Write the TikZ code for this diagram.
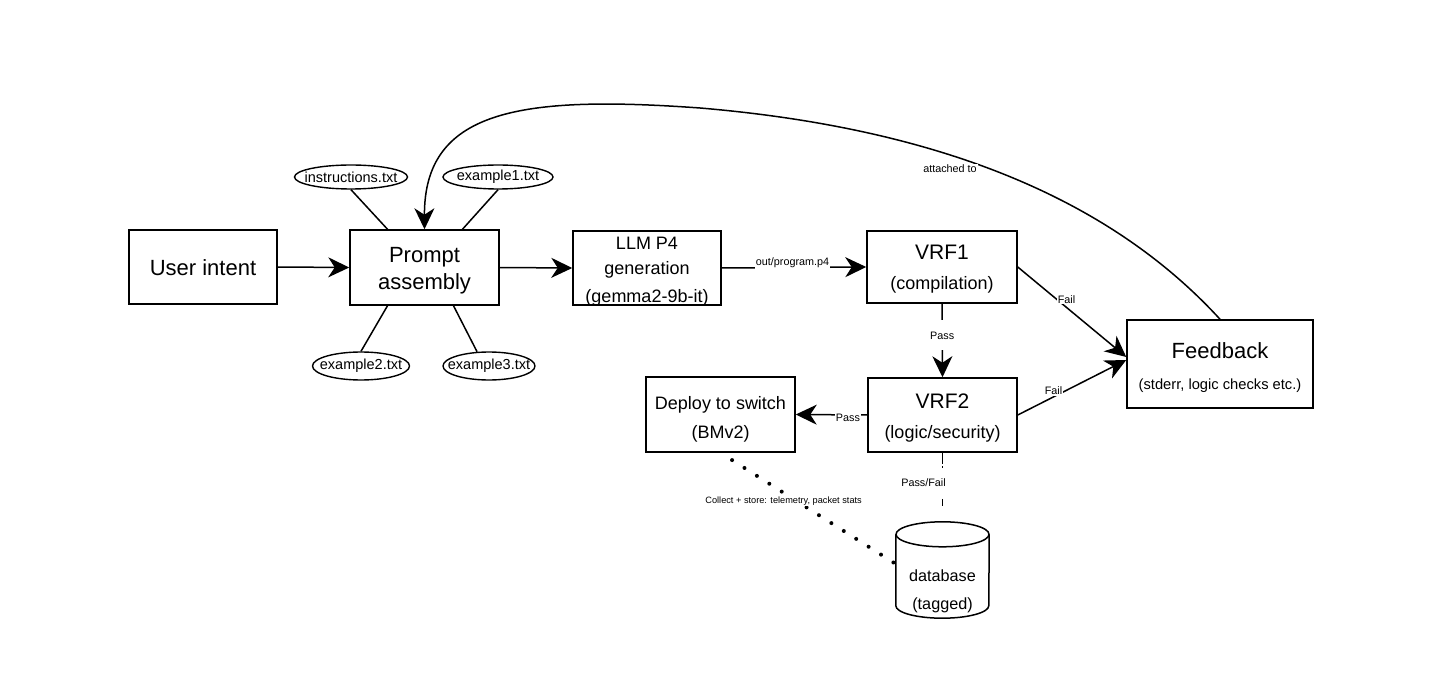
\documentclass[tikz,border=0pt]{standalone}
\usepackage{fontspec}
\setmainfont{Liberation Sans}
\usetikzlibrary{arrows.meta,shapes.geometric,calc}
\begin{document}
\begin{tikzpicture}[x=1pt,y=-1pt,
 box/.style={draw, line width=1.5pt, inner sep=0pt, minimum width=148pt, minimum height=74pt},
 fileell/.style={draw, ellipse, line width=1.4pt, inner sep=0pt, minimum height=24pt},
 ftxt/.style={label={[font=\fontsize{14.5}{16}\selectfont]center:{#1}}},
 conn/.style={line width=1.5pt},
 arr/.style={conn, -{Stealth[length=21pt,width=20pt,inset=6.5pt]}},
 lbl/.style={fill=white, inner sep=1pt, font=\fontsize{10.8}{12}\selectfont},
]
\useasboundingbox (0,0) rectangle (1439,700);

% boxes
\node[box, label={[font=\fontsize{22}{26}\selectfont,yshift=-1pt]center:User intent}] (ui) at (203,267) {};
\node[box, minimum width=149pt, minimum height=75pt,
  label={[align=center,font=\fontsize{22}{27}\selectfont,yshift=-3pt]center:{Prompt\\assembly}}] (pa) at (424.5,267.5) {};
\node[box, label={[align=center,font=\fontsize{18}{25}\selectfont,yshift=-3.5pt]center:{LLM P4\\generation\\[3pt](gemma2-9b-it)}}] (llm) at (647,268) {};
\node[box, minimum width=150pt, minimum height=72pt,
  label={[align=center,font=\fontsize{18}{30}\selectfont,yshift=-2.5pt]center:{{\fontsize{21}{30}\selectfont VRF1}\\(compilation)}}] (vrf1) at (942,267) {};
\node[box, minimum width=149pt,
  label={[align=center,font=\fontsize{18}{30}\selectfont,yshift=-3.5pt]center:{{\fontsize{21}{30}\selectfont VRF2}\\(logic/security)}}] (vrf2) at (942.5,415) {};
\node[box, minimum width=149pt, minimum height=75pt,
  label={[align=center,font=\fontsize{18}{29}\selectfont,yshift=-4.5pt]center:{Deploy to switch\\(BMv2)}}] (dep) at (720.5,414.5) {};
\node[box, minimum width=186pt, minimum height=88pt,
  label={[align=center,font=\fontsize{14.7}{31}\selectfont,yshift=-4pt]center:{{\fontsize{22}{31}\selectfont Feedback}\\(stderr, logic checks etc.)}}] (fb) at (1220,364) {};

% file ellipses
\node[fileell, minimum width=113pt, ftxt=instructions.txt] (instr) at (351,177) {};
\node[fileell, minimum width=110pt, ftxt=example1.txt] (ex1) at (498,177) {};
\node[fileell, minimum width=97pt, minimum height=28pt, ftxt=example2.txt] (ex2) at (361,366) {};
\node[fileell, minimum width=92pt, minimum height=28pt, ftxt=example3.txt] (ex3) at (489,366) {};

% database cylinder
\node[inner sep=0pt, minimum width=93pt, minimum height=96pt,
  label={[align=center,font=\fontsize{16.2}{28}\selectfont,yshift=-21pt]center:{database\\(tagged)}}] (db) at (942.5,570) {};
\draw[line width=1.5pt] ([yshift=-12.5pt]db.north) ellipse [x radius=46.5pt, y radius=12.5pt];
\draw[line width=1.5pt] ([yshift=-12.5pt]db.north west) -- ([yshift=12.5pt]db.south west)
  arc[start angle=180, end angle=360, x radius=46.5pt, y radius=12.5pt] -- ([yshift=-12.5pt]db.north east);

% connectors
\draw[arr] (ui.east) -- (pa.west);
\draw[arr] (pa.east) -- (llm.west);
\draw[arr] (llm.east) -- node[lbl, pos=0.49, yshift=5pt]{out/program.p4} (vrf1.west);
\draw[arr] (vrf1.east) -- node[lbl, pos=0.45, yshift=8pt]{Fail} ([yshift=7pt]fb.west);
\draw[arr] (vrf2.east) -- node[lbl, pos=0.33, yshift=6pt]{Fail} ([yshift=4pt]fb.west);
\draw[arr] (vrf1.south) -- node[lbl, pos=0.43, minimum height=30pt]{Pass} (vrf2.north);
\draw[arr] (vrf2.west) -- node[lbl, pos=0.27, yshift=-3pt]{Pass} (dep.east);
\draw[conn, dash pattern=on 11pt off 2pt on 2pt off 31pt on 7pt off 30pt] (vrf2.south) -- node[lbl, pos=0.44, xshift=-19pt]{Pass/Fail} (db.north);
\draw[line width=4pt, line cap=round, dash pattern=on 0pt off 14.7pt, dash phase=1pt] (dep.south) --
  node[lbl, pos=0.36, yshift=-8pt, font=\fontsize{9.2}{11}\selectfont]{Collect + store: telemetry, packet stats} ([yshift=6pt]db.west);

\draw[conn] (instr.south) -- ([xshift=-37pt]pa.north);
\draw[conn] (ex1.south) -- ([xshift=38pt]pa.north);
\draw[conn] ([xshift=-37pt]pa.south) -- (ex2.north);
\draw[conn] ([xshift=29pt]pa.south) -- (ex3.130);

\draw[arr] (fb.north) .. controls (1120,210) and (960,130) .. (700,108) .. controls (520,95) and (424,110) .. (pa.north);
\node[lbl] (att) at (950,169) {attached to};
\end{tikzpicture}
\end{document}
